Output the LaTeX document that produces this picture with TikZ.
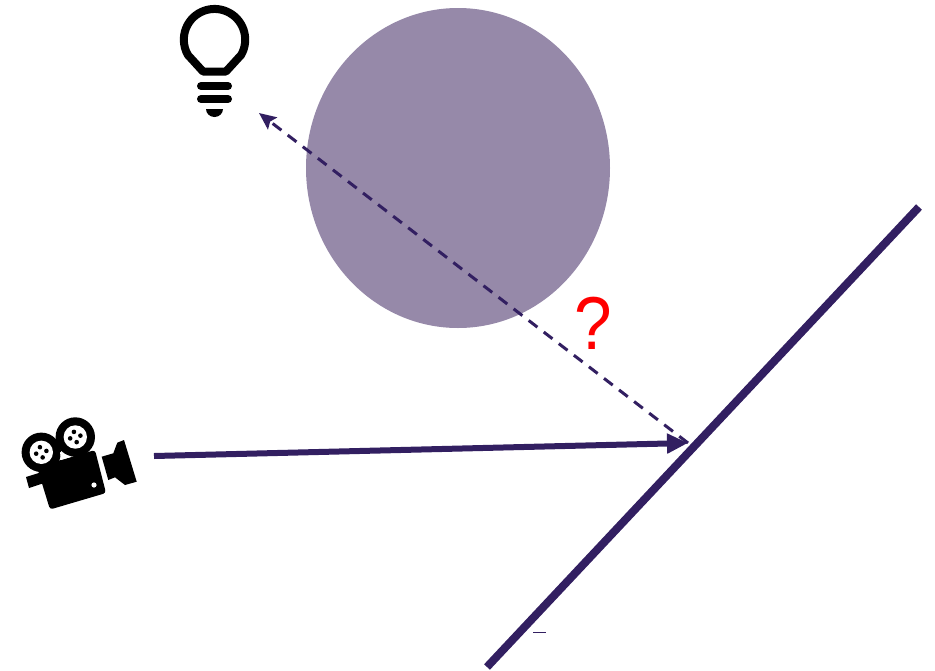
\documentclass[tikz,border=0pt]{standalone}
\usepackage{fontspec}
\setmainfont{Liberation Sans}
\usetikzlibrary{arrows.meta,positioning,shapes.geometric,calc}
\definecolor{rayink}{RGB}{50,31,97}
\definecolor{blobfill}{RGB}{150,137,169}

\begin{document}
\begin{tikzpicture}[
  x=1pt, y=-1pt,
  blob/.style={ellipse, fill=blobfill, inner sep=0pt, minimum width=304pt, minimum height=320pt},
  mirror/.style={line width=8pt, rayink},
  viewray/.style={-{Triangle[length=21pt,width=19pt]}, line width=6pt, rayink},
  shadowray/.style={-{Stealth[length=17pt,width=15pt,inset=3pt]}, line width=3pt, rayink, dash pattern=on 11pt off 8pt},
  ink/.style={fill=black, draw=none},
  bulbline/.style={line width=8pt, black, line cap=round}
]
\useasboundingbox (0,0) rectangle (935,670);
% ---- occluder and surface ----
\node[blob] (occluder) at (458,168) {};
\coordinate (mirrorlow) at (487,667);
\coordinate (mirrorhigh) at (919,207);
\coordinate (hitpoint) at (688,443);
\coordinate (camerafront) at (154,456);
\coordinate (lightpoint) at (259,113);
\draw[mirror] (mirrorlow) -- (mirrorhigh);
% ---- rays ----
\draw[viewray] (camerafront) -- (hitpoint);
\draw[shadowray] (hitpoint) -- (lightpoint);
\node[anchor=base, text=red, font=\fontsize{75}{75}\selectfont, inner sep=0pt, xscale=.9] (question) at (593.5,349) {?};
\draw[rayink, line width=1pt] (533,632) -- (546,632);
% ---- light bulb ----
\draw[line width=8pt, black, line join=round] (226,71.5) -- (241.1,55) arc[start angle=30, end angle=-210, radius=30.7] -- (203,71.5) -- cycle;
\draw[bulbline] (201,86) -- (228,86);
\draw[bulbline] (201,99) -- (228,99);
\fill[black] (206,109) -- (223,109) arc[start angle=0, end angle=180, x radius=8.5, y radius=8] -- cycle;
% ---- camera ----
\fill[ink, rounded corners=3pt] (37,467) -- (95,450) -- (106,493) -- (50,509.5) -- cycle;
\fill[ink] (26,477) -- (42,472) -- (44,483) -- (29,488) -- cycle;
\fill[ink] (101.7,456.7) -- (113.3,453.3) -- (117.3,442.7) -- (124,440) -- (136.7,481.7) -- (125,485) -- (115,477.3) -- (108.3,480) -- cycle;
\foreach \cx/\cy in {41.3/452.3, 75.3/437}{
  \fill[black] (\cx,\cy) circle[radius=19.7];
  \fill[white] (\cx,\cy) circle[radius=11.7];
  \foreach \ang in {-15,75,165,255}
    \fill[black] ($(\cx,\cy)+(\ang:5.3)$) circle[radius=2.3];
}
\fill[white] (60,452) -- (71,457) -- (61,460) -- cycle;
\fill[white] (94,485) circle[radius=2.6];
\end{tikzpicture}
\end{document}
